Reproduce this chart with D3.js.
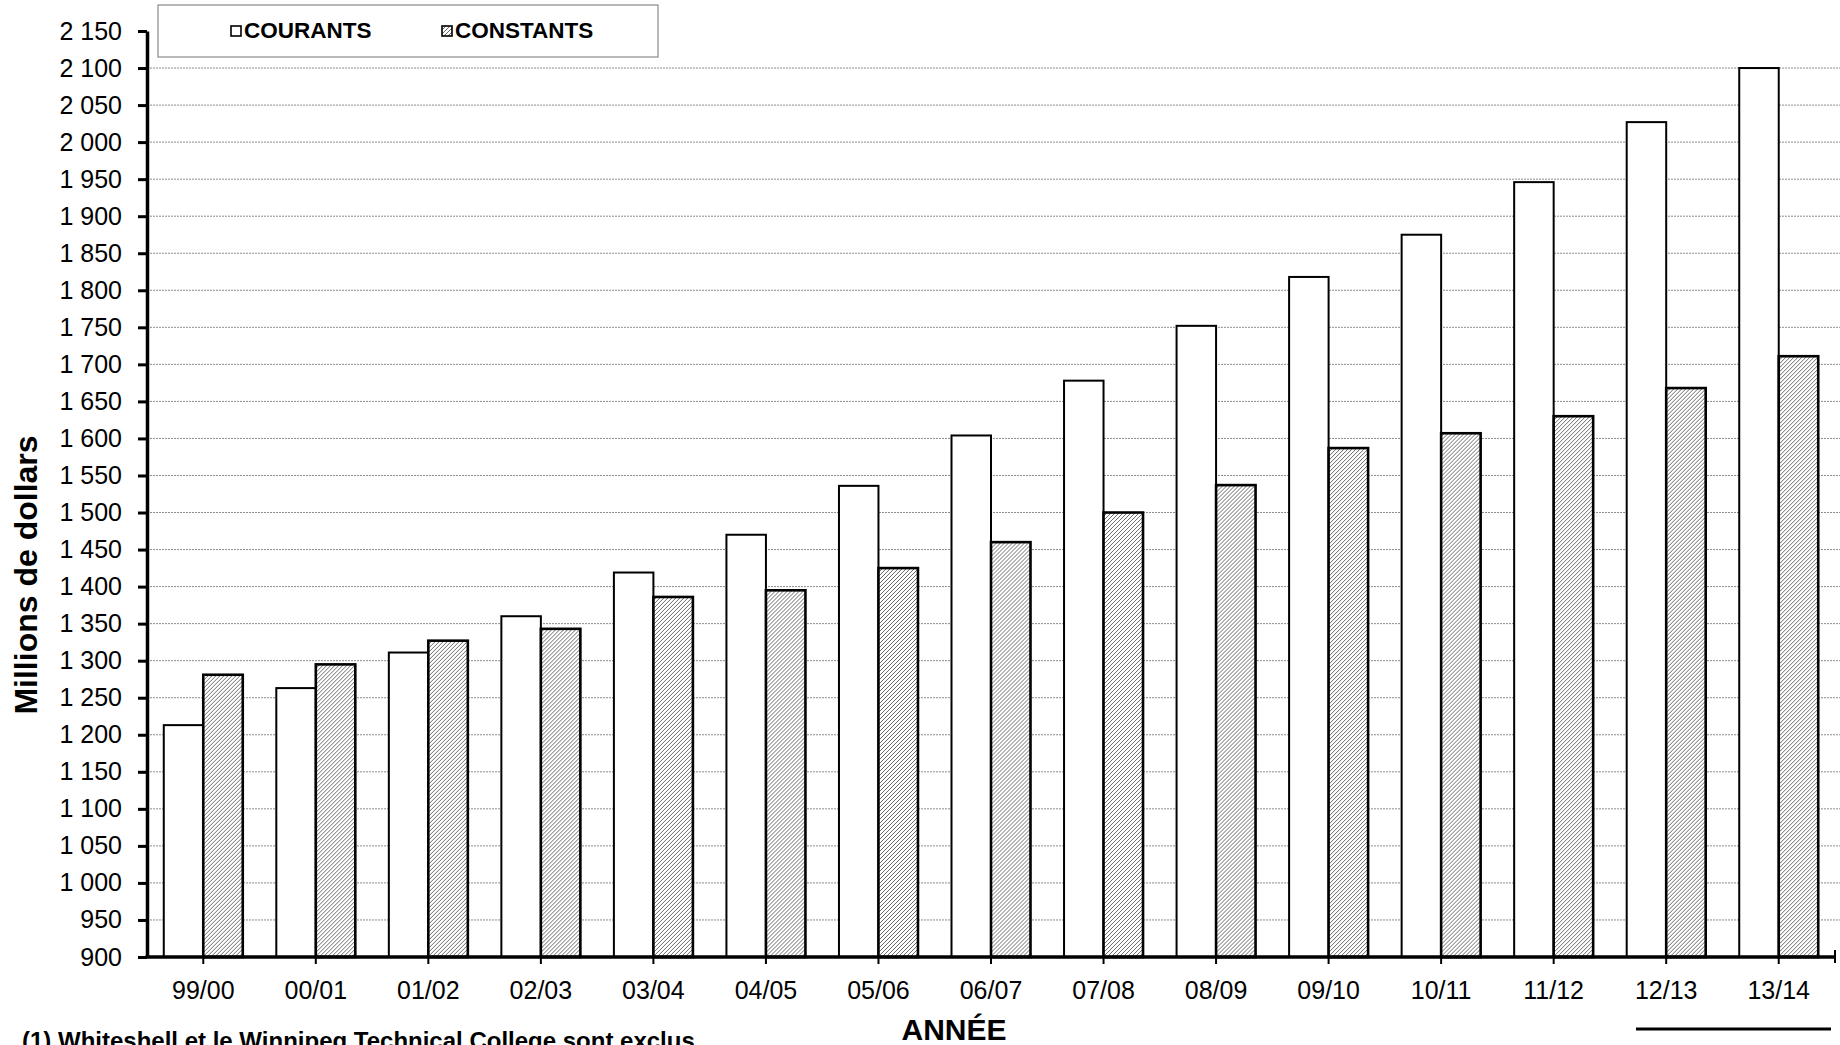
<!DOCTYPE html>
<html>
<head>
<meta charset="utf-8">
<script src="https://cdn.jsdelivr.net/npm/d3@7"></script>
<style>
  body { margin: 0; background: #fff; }
  svg { display: block; font-family: "Liberation Sans", Arial, sans-serif; }
</style>
</head>
<body>
<div id="holder"></div>
<script>
// chart data
var years = ["99/00", "00/01", "01/02", "02/03", "03/04", "04/05", "05/06", "06/07",
             "07/08", "08/09", "09/10", "10/11", "11/12", "12/13", "13/14"];
var courants = [1213, 1263, 1311, 1360, 1419, 1470, 1536, 1604, 1678, 1752, 1818, 1875, 1946, 2027, 2100];
var constants = [1281, 1295, 1327, 1343, 1386, 1395, 1425, 1460, 1500, 1537, 1587, 1607, 1630, 1668, 1711];
var seriesNames = ["COURANTS", "CONSTANTS"];
var yTicks = d3.range(900, 2151, 50);

var WIDTH = 1840, HEIGHT = 1045,
    M = { top: 31, left: 147, right: 1835, bottom: 957 };

var svg = d3.select("#holder").append("svg")
    .attr("width", WIDTH)
    .attr("height", HEIGHT);

// hatch pattern for the constant dollar bars
var defs = svg.append("defs");
var pat = defs.append("pattern")
    .attr("id", "hatch")
    .attr("patternUnits", "userSpaceOnUse")
    .attr("width", 4)
    .attr("height", 4);
pat.append("rect").attr("width", 4).attr("height", 4).attr("fill", "#fff");
pat.append("path")
    .attr("d", "M-1,1 l2,-2 M0,4 l4,-4 M3,5 l2,-2")
    .attr("stroke", "#6a6a6a")
    .attr("stroke-width", 1);

var x = d3.scaleBand()
    .domain(years)
    .range([M.left, M.right])
    .paddingInner(0.298)
    .paddingOuter(0.149);
var x1 = d3.scaleBand()
    .domain(seriesNames)
    .range([0, x.bandwidth()]);
var y = d3.scaleLinear()
    .domain([900, 2150])
    .range([M.bottom, M.top]);

var fr = d3.formatLocale({ decimal: ",", thousands: " ", grouping: [3], currency: ["", ""] });
var fmt = fr.format(",");

// grid lines
svg.append("g")
  .selectAll("line")
  .data(yTicks.filter(function(d) { return d > 900 && d < 2150; }))
  .join("line")
    .attr("x1", M.left)
    .attr("x2", 1840)
    .attr("y1", function(d) { return y(d); })
    .attr("y2", function(d) { return y(d); })
    .attr("stroke", "#8c8c8c")
    .attr("stroke-width", 1)
    .attr("stroke-dasharray", "2,1");

// bars
var rows = years.map(function(yr, i) {
  return { year: yr, vals: [{ s: "COURANTS", v: courants[i] }, { s: "CONSTANTS", v: constants[i] }] };
});
var grp = svg.append("g").selectAll("g")
  .data(rows)
  .join("g")
    .attr("transform", function(d) { return "translate(" + x(d.year) + ",0)"; });
grp.selectAll("rect")
  .data(function(d) { return d.vals; })
  .join("rect")
    .attr("x", function(d) { return x1(d.s); })
    .attr("width", x1.bandwidth())
    .attr("y", function(d) { return y(d.v); })
    .attr("height", function(d) { return y(900) - y(d.v); })
    .attr("fill", function(d) { return d.s == "COURANTS" ? "#fff" : "url(#hatch)"; })
    .attr("stroke", "#000")
    .attr("stroke-width", function(d) { return d.s == "COURANTS" ? 2 : 2.6; });

// y axis
var yAxis = svg.append("g")
    .attr("transform", "translate(" + M.left + ",0)")
    .call(d3.axisLeft(y)
      .tickValues(yTicks)
      .tickFormat(fmt)
      .tickSize(9)
      .tickSizeOuter(0)
      .tickPadding(16));
yAxis.select(".domain").attr("stroke-width", 3.5);
yAxis.selectAll(".tick line").attr("stroke-width", 3);
yAxis.selectAll("text")
    .attr("font-size", 25)
    .attr("fill", "#000");

// x axis
var xAxis = svg.append("g")
    .attr("transform", "translate(0," + M.bottom + ")")
    .call(d3.axisBottom(x)
      .tickSize(7)
      .tickSizeOuter(0)
      .tickPadding(17));
xAxis.select(".domain").remove();
xAxis.selectAll(".tick line").attr("stroke-width", 2);
xAxis.selectAll("text")
    .attr("font-size", 25)
    .attr("fill", "#000");
xAxis.append("line")
    .attr("x1", M.left - 1.5).attr("x2", M.right)
    .attr("stroke", "#000")
    .attr("stroke-width", 3.5);
xAxis.append("line")
    .attr("x1", M.right).attr("x2", M.right)
    .attr("y1", -7).attr("y2", 6)
    .attr("stroke", "#000")
    .attr("stroke-width", 2);

// axis titles
svg.append("text")
    .attr("transform", "translate(37,575) rotate(-90)")
    .attr("text-anchor", "middle")
    .attr("font-size", 32)
    .attr("font-weight", "bold")
    .text("Millions de dollars");
svg.append("text")
    .attr("x", 954)
    .attr("y", 1040)
    .attr("text-anchor", "middle")
    .attr("font-size", 30)
    .attr("font-weight", "bold")
    .text("ANNÉE");

// legend
var leg = svg.append("g");
leg.append("rect")
    .attr("x", 158).attr("y", 5)
    .attr("width", 500).attr("height", 52)
    .attr("fill", "#fff")
    .attr("stroke", "#8a8a8a")
    .attr("stroke-width", 1.2);
var legX = [231, 442];
seriesNames.forEach(function(s, i) {
  leg.append("rect")
      .attr("x", legX[i]).attr("y", 26)
      .attr("width", 10).attr("height", 10)
      .attr("fill", i == 0 ? "#fff" : "url(#hatch)")
      .attr("stroke", "#000")
      .attr("stroke-width", 1.6);
  leg.append("text")
      .attr("x", legX[i] + 13).attr("y", 38)
      .attr("font-size", 22.5)
      .attr("font-weight", "bold")
      .text(s);
});

// footnote, cut by the bottom edge as in the source
svg.append("text")
    .attr("x", 22)
    .attr("y", 1049)
    .attr("font-size", 24)
    .attr("font-weight", "bold")
    .text("(1)  Whiteshell et le Winnipeg Technical College sont exclus");
svg.append("line")
    .attr("x1", 1636).attr("x2", 1831)
    .attr("y1", 1029).attr("y2", 1029)
    .attr("stroke", "#000")
    .attr("stroke-width", 3);
</script>
</body>
</html>
